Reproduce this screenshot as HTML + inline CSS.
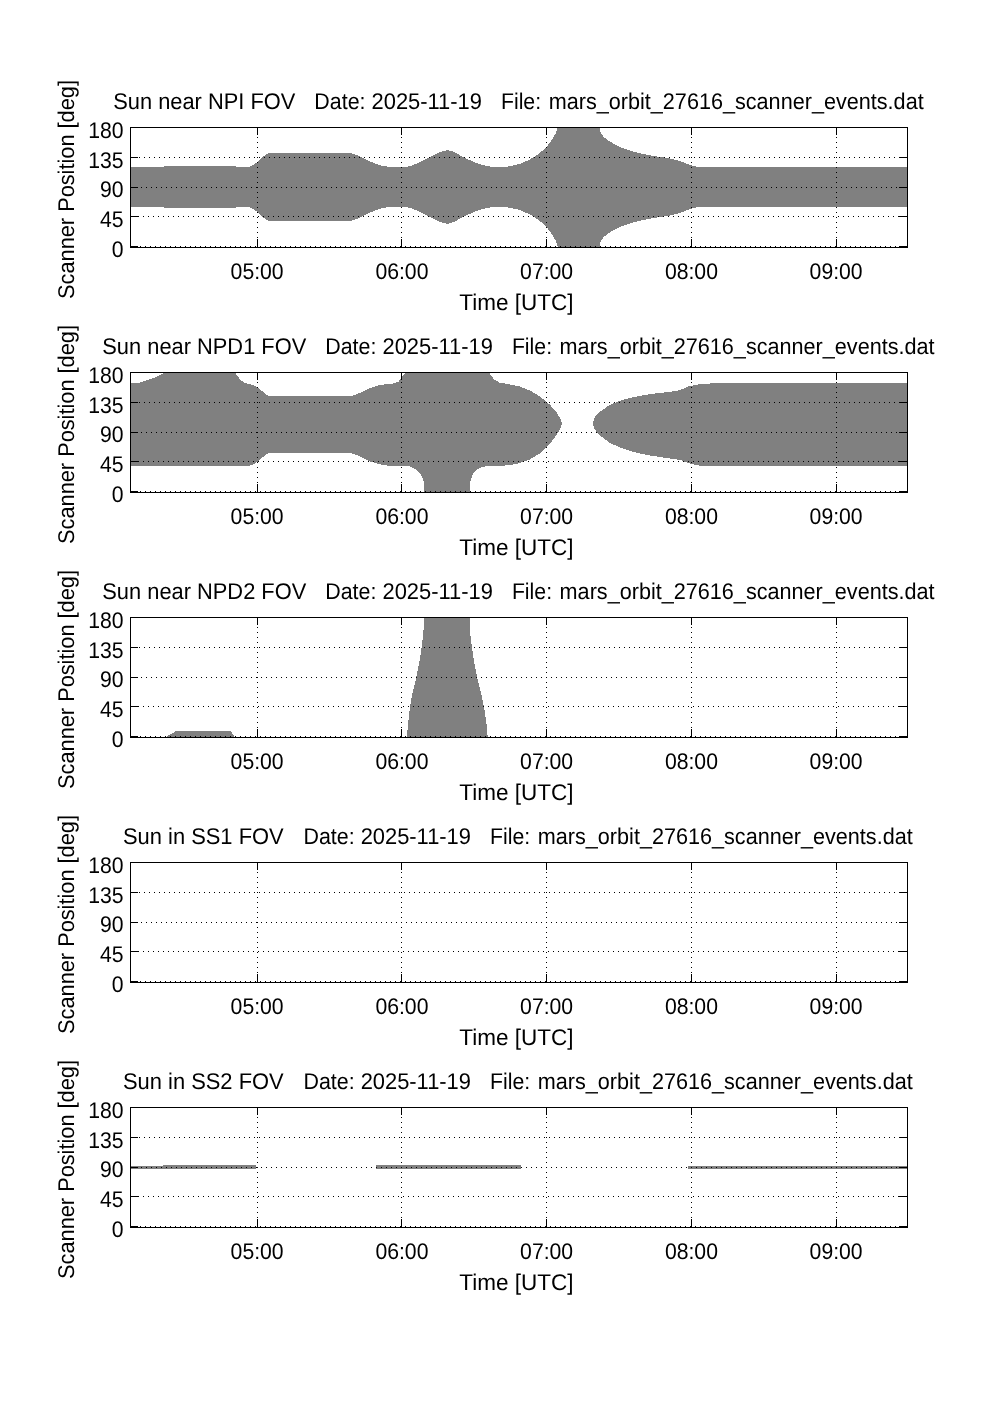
<!DOCTYPE html>
<html><head><meta charset="utf-8"><title>Scanner events</title>
<style>
html,body{margin:0;padding:0;background:#fff;}
svg{display:block}
text{font-family:"Liberation Sans",sans-serif;font-size:21.85px;fill:#000;white-space:pre;text-rendering:geometricPrecision}
.ax{stroke:#000;stroke-width:1;fill:none;shape-rendering:crispEdges}
.gr{stroke:#000;stroke-width:1;fill:none;stroke-dasharray:1 4;shape-rendering:crispEdges}
.fl{fill:#808080;stroke:none;shape-rendering:crispEdges}
</style></head><body>
<svg width="1002" height="1419" viewBox="0 0 1002 1419">
<rect width="1002" height="1419" fill="#fff"/>
<g>
<clipPath id="c0"><rect x="130" y="127" width="778" height="121"/></clipPath>
<polygon class="fl" clip-path="url(#c0)" points="130.0,167.3 163.5,167.3 164.5,166.0 236.0,166.0 236.2,167.3 247.5,167.3 251.0,166.2 254.0,164.6 257.6,161.8 261.4,158.4 265.2,154.9 268.5,153.0 350.0,152.9 359.9,156.3 369.9,161.3 379.9,165.3 389.8,167.1 401.8,167.3 409.8,166.3 419.8,162.3 429.8,157.3 439.7,152.3 443.5,151.0 447.3,150.2 451.0,151.0 453.7,151.9 463.7,157.3 473.7,161.9 483.7,165.3 491.6,166.9 500.0,167.3 510.0,166.3 520.0,163.9 530.0,159.5 540.0,152.9 546.5,146.9 551.9,140.0 555.9,133.0 557.9,127.0 599.8,127.0 600.5,132.0 603.8,137.0 609.8,141.6 619.8,146.9 629.7,150.5 639.7,153.3 649.7,155.3 659.7,156.9 669.7,158.3 679.6,160.9 689.6,164.9 699.6,167.3 908.0,167.3 908.0,206.7 699.6,206.7 689.6,209.1 679.6,213.1 669.7,215.7 659.7,217.1 649.7,218.7 639.7,220.7 629.7,223.5 619.8,227.1 609.8,232.4 603.8,237.0 600.5,242.0 599.8,247.0 557.9,247.0 555.9,241.0 551.9,234.0 546.5,227.1 540.0,221.1 530.0,214.5 520.0,210.1 510.0,207.7 500.0,206.7 491.6,207.1 483.7,208.7 473.7,212.1 463.7,216.7 453.7,222.1 451.0,223.0 447.3,223.8 443.5,223.0 439.7,221.7 429.8,216.7 419.8,211.7 409.8,207.7 401.8,206.7 389.8,206.9 379.9,208.7 369.9,212.7 359.9,217.7 350.0,221.1 268.5,221.0 265.2,219.1 261.4,215.6 257.6,212.2 254.0,209.4 251.0,207.8 247.5,206.7 236.2,206.7 236.0,208.0 164.5,208.0 163.5,206.7 130.0,206.7"/>
<path class="ax" d="M130 127.5h8M908 127.5h-9"/>
<path class="gr" d="M139 157.5H899"/>
<path class="ax" d="M130 157.5h8M908 157.5h-9"/>
<path class="gr" d="M141 187.5H899"/>
<path class="ax" d="M130 187.5h8M908 187.5h-9"/>
<path class="gr" d="M138 216.5H899"/>
<path class="ax" d="M130 216.5h8M908 216.5h-9"/>
<path class="gr" d="M140 246.5H899"/>
<path class="ax" d="M130 246.5h8M908 246.5h-9"/>
<path class="gr" d="M257.5 137V239"/>
<path class="ax" d="M257.5 127v8M257.5 248v-9"/>
<path class="gr" d="M401.5 137V239"/>
<path class="ax" d="M401.5 127v8M401.5 248v-9"/>
<path class="gr" d="M546.5 137V239"/>
<path class="ax" d="M546.5 127v8M546.5 248v-9"/>
<path class="gr" d="M691.5 137V239"/>
<path class="ax" d="M691.5 127v8M691.5 248v-9"/>
<path class="gr" d="M836.5 137V239"/>
<path class="ax" d="M836.5 127v8M836.5 248v-9"/>
<rect class="ax" x="130.5" y="127.5" width="777" height="120"/>
<text transform="translate(123.6 137.9) scale(0.97 1.04)" text-anchor="end">180</text>
<text transform="translate(123.6 167.7) scale(0.97 1.04)" text-anchor="end">135</text>
<text transform="translate(123.6 197.4) scale(0.97 1.04)" text-anchor="end">90</text>
<text transform="translate(123.6 227.2) scale(0.97 1.04)" text-anchor="end">45</text>
<text transform="translate(123.6 256.9) scale(0.97 1.04)" text-anchor="end">0</text>
<text transform="translate(257.1 278.8) scale(0.97 1.04)" text-anchor="middle">05:00</text>
<text transform="translate(401.9 278.8) scale(0.97 1.04)" text-anchor="middle">06:00</text>
<text transform="translate(546.6 278.8) scale(0.97 1.04)" text-anchor="middle">07:00</text>
<text transform="translate(691.4 278.8) scale(0.97 1.04)" text-anchor="middle">08:00</text>
<text transform="translate(836.1 278.8) scale(0.97 1.04)" text-anchor="middle">09:00</text>
<text transform="translate(516.4 309.6) scale(1.03 1.04)" text-anchor="middle">Time [UTC]</text>
<text transform="translate(0 108.6) scale(1 1.04)"><tspan x="113.24" textLength="182.11" lengthAdjust="spacingAndGlyphs">Sun near NPI FOV</tspan>   <tspan x="314.35" textLength="51.16" lengthAdjust="spacingAndGlyphs">Date:</tspan> <tspan x="371.58" textLength="110.31" lengthAdjust="spacingAndGlyphs">2025-11-19</tspan>   <tspan x="500.95" textLength="40.17" lengthAdjust="spacingAndGlyphs">File:</tspan> <tspan x="548.69" textLength="374.97" lengthAdjust="spacingAndGlyphs">mars_orbit_27616_scanner_events.dat</tspan></text>
<text transform="translate(74 189.5) rotate(-90) scale(0.996 1.04)" text-anchor="middle">Scanner Position [deg]</text>
</g>
<g>
<clipPath id="c1"><rect x="130" y="372" width="778" height="121"/></clipPath>
<polygon class="fl" clip-path="url(#c1)" points="130.0,383.0 140.0,382.6 146.0,380.6 154.0,378.0 160.0,375.0 164.5,373.0 164.5,372.0 235.3,372.0 235.3,373.0 239.8,379.0 243.8,382.6 251.7,384.6 257.7,387.4 263.7,392.5 268.1,395.9 351.9,395.9 359.9,392.9 369.9,388.0 379.9,385.0 393.8,383.4 398.8,381.4 401.8,377.0 405.8,372.0 488.6,372.0 493.6,379.0 499.6,382.6 510.0,384.4 520.0,386.6 530.0,390.5 540.0,396.5 550.0,404.9 556.9,412.9 560.9,419.9 561.9,423.3 561.9,423.9 560.9,427.5 556.9,434.5 550.0,443.8 540.0,453.4 530.0,459.4 520.0,463.0 510.0,465.0 500.0,466.0 489.6,465.8 481.7,467.0 476.7,469.8 472.7,474.4 470.3,481.4 469.7,492.6 424.4,492.6 423.8,481.4 420.8,474.4 415.8,469.4 409.8,466.4 389.8,466.0 379.9,464.4 369.9,461.4 359.9,456.4 351.9,453.4 268.1,453.4 263.7,456.4 257.7,461.4 253.7,464.4 247.7,466.0 130.0,466.0"/>
<polygon class="fl" clip-path="url(#c1)" points="592.8,423.3 594.8,416.9 599.8,411.9 609.8,404.9 619.8,400.9 629.7,397.9 639.7,395.9 649.7,394.3 659.7,392.9 669.7,391.9 679.6,390.3 689.6,386.0 699.6,384.3 710.0,383.6 712.0,383.0 908.0,383.0 908.0,465.7 699.6,465.7 689.6,463.4 679.6,459.8 669.7,458.4 659.7,457.0 649.7,455.4 639.7,453.4 629.7,450.8 619.8,447.4 609.8,442.8 599.8,435.5 594.8,429.5 592.8,423.9"/>
<path class="ax" d="M130 372.5h8M908 372.5h-9"/>
<path class="gr" d="M139 402.5H899"/>
<path class="ax" d="M130 402.5h8M908 402.5h-9"/>
<path class="gr" d="M141 432.5H899"/>
<path class="ax" d="M130 432.5h8M908 432.5h-9"/>
<path class="gr" d="M138 461.5H899"/>
<path class="ax" d="M130 461.5h8M908 461.5h-9"/>
<path class="gr" d="M140 491.5H899"/>
<path class="ax" d="M130 491.5h8M908 491.5h-9"/>
<path class="gr" d="M257.5 382V484"/>
<path class="ax" d="M257.5 372v8M257.5 493v-9"/>
<path class="gr" d="M401.5 382V484"/>
<path class="ax" d="M401.5 372v8M401.5 493v-9"/>
<path class="gr" d="M546.5 382V484"/>
<path class="ax" d="M546.5 372v8M546.5 493v-9"/>
<path class="gr" d="M691.5 382V484"/>
<path class="ax" d="M691.5 372v8M691.5 493v-9"/>
<path class="gr" d="M836.5 382V484"/>
<path class="ax" d="M836.5 372v8M836.5 493v-9"/>
<rect class="ax" x="130.5" y="372.5" width="777" height="120"/>
<text transform="translate(123.6 382.9) scale(0.97 1.04)" text-anchor="end">180</text>
<text transform="translate(123.6 412.6) scale(0.97 1.04)" text-anchor="end">135</text>
<text transform="translate(123.6 442.4) scale(0.97 1.04)" text-anchor="end">90</text>
<text transform="translate(123.6 472.1) scale(0.97 1.04)" text-anchor="end">45</text>
<text transform="translate(123.6 501.9) scale(0.97 1.04)" text-anchor="end">0</text>
<text transform="translate(257.1 523.8) scale(0.97 1.04)" text-anchor="middle">05:00</text>
<text transform="translate(401.9 523.8) scale(0.97 1.04)" text-anchor="middle">06:00</text>
<text transform="translate(546.6 523.8) scale(0.97 1.04)" text-anchor="middle">07:00</text>
<text transform="translate(691.4 523.8) scale(0.97 1.04)" text-anchor="middle">08:00</text>
<text transform="translate(836.1 523.8) scale(0.97 1.04)" text-anchor="middle">09:00</text>
<text transform="translate(516.4 554.6) scale(1.03 1.04)" text-anchor="middle">Time [UTC]</text>
<text transform="translate(0 353.6) scale(1 1.04)"><tspan x="102.31" textLength="203.96" lengthAdjust="spacingAndGlyphs">Sun near NPD1 FOV</tspan>   <tspan x="325.28" textLength="51.16" lengthAdjust="spacingAndGlyphs">Date:</tspan> <tspan x="382.51" textLength="110.31" lengthAdjust="spacingAndGlyphs">2025-11-19</tspan>   <tspan x="511.88" textLength="40.17" lengthAdjust="spacingAndGlyphs">File:</tspan> <tspan x="559.62" textLength="374.97" lengthAdjust="spacingAndGlyphs">mars_orbit_27616_scanner_events.dat</tspan></text>
<text transform="translate(74 434.5) rotate(-90) scale(0.996 1.04)" text-anchor="middle">Scanner Position [deg]</text>
</g>
<g>
<clipPath id="c2"><rect x="130" y="617" width="778" height="121"/></clipPath>
<polygon class="fl" clip-path="url(#c2)" points="165.9,737.0 175.9,731.2 230.8,731.2 234.8,737.0"/>
<polygon class="fl" clip-path="url(#c2)" points="406.9,737.0 408.3,721.8 409.9,707.8 412.3,693.8 416.2,677.9 419.4,661.9 421.8,645.9 423.4,632.0 424.2,617.0 469.7,617.0 470.1,632.0 471.7,645.9 474.1,661.9 477.3,677.9 481.3,693.8 484.1,707.8 486.3,721.8 487.7,737.0"/>
<path class="ax" d="M130 617.5h8M908 617.5h-9"/>
<path class="gr" d="M139 647.5H899"/>
<path class="ax" d="M130 647.5h8M908 647.5h-9"/>
<path class="gr" d="M141 677.5H899"/>
<path class="ax" d="M130 677.5h8M908 677.5h-9"/>
<path class="gr" d="M138 706.5H899"/>
<path class="ax" d="M130 706.5h8M908 706.5h-9"/>
<path class="gr" d="M140 736.5H899"/>
<path class="ax" d="M130 736.5h8M908 736.5h-9"/>
<path class="gr" d="M257.5 627V729"/>
<path class="ax" d="M257.5 617v8M257.5 738v-9"/>
<path class="gr" d="M401.5 627V729"/>
<path class="ax" d="M401.5 617v8M401.5 738v-9"/>
<path class="gr" d="M546.5 627V729"/>
<path class="ax" d="M546.5 617v8M546.5 738v-9"/>
<path class="gr" d="M691.5 627V729"/>
<path class="ax" d="M691.5 617v8M691.5 738v-9"/>
<path class="gr" d="M836.5 627V729"/>
<path class="ax" d="M836.5 617v8M836.5 738v-9"/>
<rect class="ax" x="130.5" y="617.5" width="777" height="120"/>
<text transform="translate(123.6 627.9) scale(0.97 1.04)" text-anchor="end">180</text>
<text transform="translate(123.6 657.6) scale(0.97 1.04)" text-anchor="end">135</text>
<text transform="translate(123.6 687.4) scale(0.97 1.04)" text-anchor="end">90</text>
<text transform="translate(123.6 717.1) scale(0.97 1.04)" text-anchor="end">45</text>
<text transform="translate(123.6 746.9) scale(0.97 1.04)" text-anchor="end">0</text>
<text transform="translate(257.1 768.8) scale(0.97 1.04)" text-anchor="middle">05:00</text>
<text transform="translate(401.9 768.8) scale(0.97 1.04)" text-anchor="middle">06:00</text>
<text transform="translate(546.6 768.8) scale(0.97 1.04)" text-anchor="middle">07:00</text>
<text transform="translate(691.4 768.8) scale(0.97 1.04)" text-anchor="middle">08:00</text>
<text transform="translate(836.1 768.8) scale(0.97 1.04)" text-anchor="middle">09:00</text>
<text transform="translate(516.4 799.6) scale(1.03 1.04)" text-anchor="middle">Time [UTC]</text>
<text transform="translate(0 598.6) scale(1 1.04)"><tspan x="102.31" textLength="203.96" lengthAdjust="spacingAndGlyphs">Sun near NPD2 FOV</tspan>   <tspan x="325.28" textLength="51.16" lengthAdjust="spacingAndGlyphs">Date:</tspan> <tspan x="382.51" textLength="110.31" lengthAdjust="spacingAndGlyphs">2025-11-19</tspan>   <tspan x="511.88" textLength="40.17" lengthAdjust="spacingAndGlyphs">File:</tspan> <tspan x="559.62" textLength="374.97" lengthAdjust="spacingAndGlyphs">mars_orbit_27616_scanner_events.dat</tspan></text>
<text transform="translate(74 679.5) rotate(-90) scale(0.996 1.04)" text-anchor="middle">Scanner Position [deg]</text>
</g>
<g>
<clipPath id="c3"><rect x="130" y="862" width="778" height="121"/></clipPath>
<path class="ax" d="M130 862.5h8M908 862.5h-9"/>
<path class="gr" d="M139 892.5H899"/>
<path class="ax" d="M130 892.5h8M908 892.5h-9"/>
<path class="gr" d="M141 922.5H899"/>
<path class="ax" d="M130 922.5h8M908 922.5h-9"/>
<path class="gr" d="M138 951.5H899"/>
<path class="ax" d="M130 951.5h8M908 951.5h-9"/>
<path class="gr" d="M140 981.5H899"/>
<path class="ax" d="M130 981.5h8M908 981.5h-9"/>
<path class="gr" d="M257.5 872V974"/>
<path class="ax" d="M257.5 862v8M257.5 983v-9"/>
<path class="gr" d="M401.5 872V974"/>
<path class="ax" d="M401.5 862v8M401.5 983v-9"/>
<path class="gr" d="M546.5 872V974"/>
<path class="ax" d="M546.5 862v8M546.5 983v-9"/>
<path class="gr" d="M691.5 872V974"/>
<path class="ax" d="M691.5 862v8M691.5 983v-9"/>
<path class="gr" d="M836.5 872V974"/>
<path class="ax" d="M836.5 862v8M836.5 983v-9"/>
<rect class="ax" x="130.5" y="862.5" width="777" height="120"/>
<text transform="translate(123.6 872.9) scale(0.97 1.04)" text-anchor="end">180</text>
<text transform="translate(123.6 902.6) scale(0.97 1.04)" text-anchor="end">135</text>
<text transform="translate(123.6 932.4) scale(0.97 1.04)" text-anchor="end">90</text>
<text transform="translate(123.6 962.1) scale(0.97 1.04)" text-anchor="end">45</text>
<text transform="translate(123.6 991.9) scale(0.97 1.04)" text-anchor="end">0</text>
<text transform="translate(257.1 1013.8) scale(0.97 1.04)" text-anchor="middle">05:00</text>
<text transform="translate(401.9 1013.8) scale(0.97 1.04)" text-anchor="middle">06:00</text>
<text transform="translate(546.6 1013.8) scale(0.97 1.04)" text-anchor="middle">07:00</text>
<text transform="translate(691.4 1013.8) scale(0.97 1.04)" text-anchor="middle">08:00</text>
<text transform="translate(836.1 1013.8) scale(0.97 1.04)" text-anchor="middle">09:00</text>
<text transform="translate(516.4 1044.6) scale(1.03 1.04)" text-anchor="middle">Time [UTC]</text>
<text transform="translate(0 843.6) scale(1 1.04)"><tspan x="122.96" textLength="160.72" lengthAdjust="spacingAndGlyphs">Sun in SS1 FOV</tspan>   <tspan x="303.43" textLength="51.16" lengthAdjust="spacingAndGlyphs">Date:</tspan> <tspan x="360.66" textLength="110.31" lengthAdjust="spacingAndGlyphs">2025-11-19</tspan>   <tspan x="490.03" textLength="40.17" lengthAdjust="spacingAndGlyphs">File:</tspan> <tspan x="537.77" textLength="374.97" lengthAdjust="spacingAndGlyphs">mars_orbit_27616_scanner_events.dat</tspan></text>
<text transform="translate(74 924.5) rotate(-90) scale(0.996 1.04)" text-anchor="middle">Scanner Position [deg]</text>
</g>
<g>
<clipPath id="c4"><rect x="130" y="1107" width="778" height="121"/></clipPath>
<polygon class="fl" clip-path="url(#c4)" points="130.0,1166.0 163.0,1166.0 163.0,1165.0 255.7,1165.0 255.7,1169.0 130.0,1169.0"/>
<polygon class="fl" clip-path="url(#c4)" points="375.9,1165.0 520.8,1165.0 520.8,1169.0 375.9,1169.0"/>
<polygon class="fl" clip-path="url(#c4)" points="688.0,1166.0 908.0,1166.0 908.0,1168.5 688.0,1168.5"/>
<path class="ax" d="M130 1107.5h8M908 1107.5h-9"/>
<path class="gr" d="M139 1137.5H899"/>
<path class="ax" d="M130 1137.5h8M908 1137.5h-9"/>
<path class="gr" d="M141 1167.5H899"/>
<path class="ax" d="M130 1167.5h8M908 1167.5h-9"/>
<path class="gr" d="M138 1196.5H899"/>
<path class="ax" d="M130 1196.5h8M908 1196.5h-9"/>
<path class="gr" d="M140 1226.5H899"/>
<path class="ax" d="M130 1226.5h8M908 1226.5h-9"/>
<path class="gr" d="M257.5 1117V1219"/>
<path class="ax" d="M257.5 1107v8M257.5 1228v-9"/>
<path class="gr" d="M401.5 1117V1219"/>
<path class="ax" d="M401.5 1107v8M401.5 1228v-9"/>
<path class="gr" d="M546.5 1117V1219"/>
<path class="ax" d="M546.5 1107v8M546.5 1228v-9"/>
<path class="gr" d="M691.5 1117V1219"/>
<path class="ax" d="M691.5 1107v8M691.5 1228v-9"/>
<path class="gr" d="M836.5 1117V1219"/>
<path class="ax" d="M836.5 1107v8M836.5 1228v-9"/>
<rect class="ax" x="130.5" y="1107.5" width="777" height="120"/>
<text transform="translate(123.6 1117.9) scale(0.97 1.04)" text-anchor="end">180</text>
<text transform="translate(123.6 1147.7) scale(0.97 1.04)" text-anchor="end">135</text>
<text transform="translate(123.6 1177.4) scale(0.97 1.04)" text-anchor="end">90</text>
<text transform="translate(123.6 1207.2) scale(0.97 1.04)" text-anchor="end">45</text>
<text transform="translate(123.6 1236.9) scale(0.97 1.04)" text-anchor="end">0</text>
<text transform="translate(257.1 1258.8) scale(0.97 1.04)" text-anchor="middle">05:00</text>
<text transform="translate(401.9 1258.8) scale(0.97 1.04)" text-anchor="middle">06:00</text>
<text transform="translate(546.6 1258.8) scale(0.97 1.04)" text-anchor="middle">07:00</text>
<text transform="translate(691.4 1258.8) scale(0.97 1.04)" text-anchor="middle">08:00</text>
<text transform="translate(836.1 1258.8) scale(0.97 1.04)" text-anchor="middle">09:00</text>
<text transform="translate(516.4 1289.6) scale(1.03 1.04)" text-anchor="middle">Time [UTC]</text>
<text transform="translate(0 1088.6) scale(1 1.04)"><tspan x="122.96" textLength="160.72" lengthAdjust="spacingAndGlyphs">Sun in SS2 FOV</tspan>   <tspan x="303.43" textLength="51.16" lengthAdjust="spacingAndGlyphs">Date:</tspan> <tspan x="360.66" textLength="110.31" lengthAdjust="spacingAndGlyphs">2025-11-19</tspan>   <tspan x="490.03" textLength="40.17" lengthAdjust="spacingAndGlyphs">File:</tspan> <tspan x="537.77" textLength="374.97" lengthAdjust="spacingAndGlyphs">mars_orbit_27616_scanner_events.dat</tspan></text>
<text transform="translate(74 1169.5) rotate(-90) scale(0.996 1.04)" text-anchor="middle">Scanner Position [deg]</text>
</g>
</svg></body></html>
